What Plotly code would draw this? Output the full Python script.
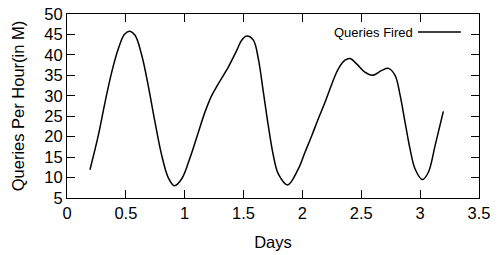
import plotly.graph_objects as go

days = [0.195, 0.266, 0.323, 0.38, 0.436, 0.487, 0.53, 0.578, 0.635, 0.69, 0.748,
        0.805, 0.86, 0.912, 0.975, 1.04, 1.116, 1.172, 1.23, 1.285, 1.37, 1.442,
        1.484, 1.527, 1.583, 1.625, 1.668, 1.71, 1.753, 1.795, 1.875, 1.965, 2.022,
        2.08, 2.135, 2.192, 2.25, 2.305, 2.362, 2.405, 2.46, 2.53, 2.594, 2.674,
        2.73, 2.787, 2.83, 2.872, 2.914, 2.957, 3.019, 3.07, 3.127, 3.197]
queries = [11.9, 20.3, 28.4, 35.8, 41.5, 45.0, 45.8, 44.8, 39.9, 32.5, 23.5,
           15.4, 10.0, 8.0, 9.7, 14.4, 21.1, 26.0, 30.1, 32.9, 37.0, 41.1,
           43.6, 44.6, 43.6, 39.1, 30.9, 22.7, 15.4, 10.9, 8.2, 12.1, 16.2,
           20.3, 24.4, 28.4, 32.9, 36.6, 38.7, 39.1, 37.8, 35.8, 35.0, 36.2,
           36.7, 35.0, 30.1, 23.5, 17.0, 12.1, 9.5, 11.3, 17.8, 26.2]
series_name = "Queries Fired"
x_ticks = [0, 0.5, 1, 1.5, 2, 2.5, 3, 3.5]
y_ticks = [5, 10, 15, 20, 25, 30, 35, 40, 45, 50]

FONT = "Liberation Sans, Arial, Helvetica, sans-serif"

fig = go.Figure()
fig.add_trace(go.Scatter(x=days, y=queries, mode="lines", name=series_name,
                         line=dict(color="black", width=1.5, shape="spline", smoothing=1.0),
                         showlegend=False))

axis_common = dict(showline=True, linecolor="black", linewidth=1, mirror="ticks",
                   ticks="inside", ticklen=8, tickcolor="black", tickwidth=1,
                   showgrid=False, zeroline=False, automargin=False,
                   tickfont=dict(family=FONT, size=16.5, color="black"))

fig.update_xaxes(range=[0, 3.5], tickvals=x_ticks, ticktext=[str(v) for v in x_ticks],
                 title=dict(text="Days", font=dict(family=FONT, size=16.5, color="black")),
                 **axis_common)
fig.update_yaxes(range=[5, 50], tickvals=y_ticks, ticktext=[str(v) for v in y_ticks],
                 title=dict(text="Queries Per Hour(in M)", font=dict(family=FONT, size=16.5, color="black")),
                 **axis_common)

fig.add_annotation(x=0.845, y=0.902, xref="paper", yref="paper", text=series_name,
                   showarrow=False, xanchor="right", yanchor="middle",
                   font=dict(family=FONT, size=13, color="black"))
fig.add_shape(type="line", xref="paper", yref="paper", x0=0.852, x1=0.956, y0=0.902, y1=0.902,
              line=dict(color="black", width=1.5))

fig.update_layout(width=497, height=255, margin=dict(l=67, r=18, t=14, b=57),
                  plot_bgcolor="white", paper_bgcolor="white",
                  font=dict(family=FONT, color="black"))

fig.write_html("out.html", config={"displayModeBar": False},
               post_script="document.body.style.margin='0';")
